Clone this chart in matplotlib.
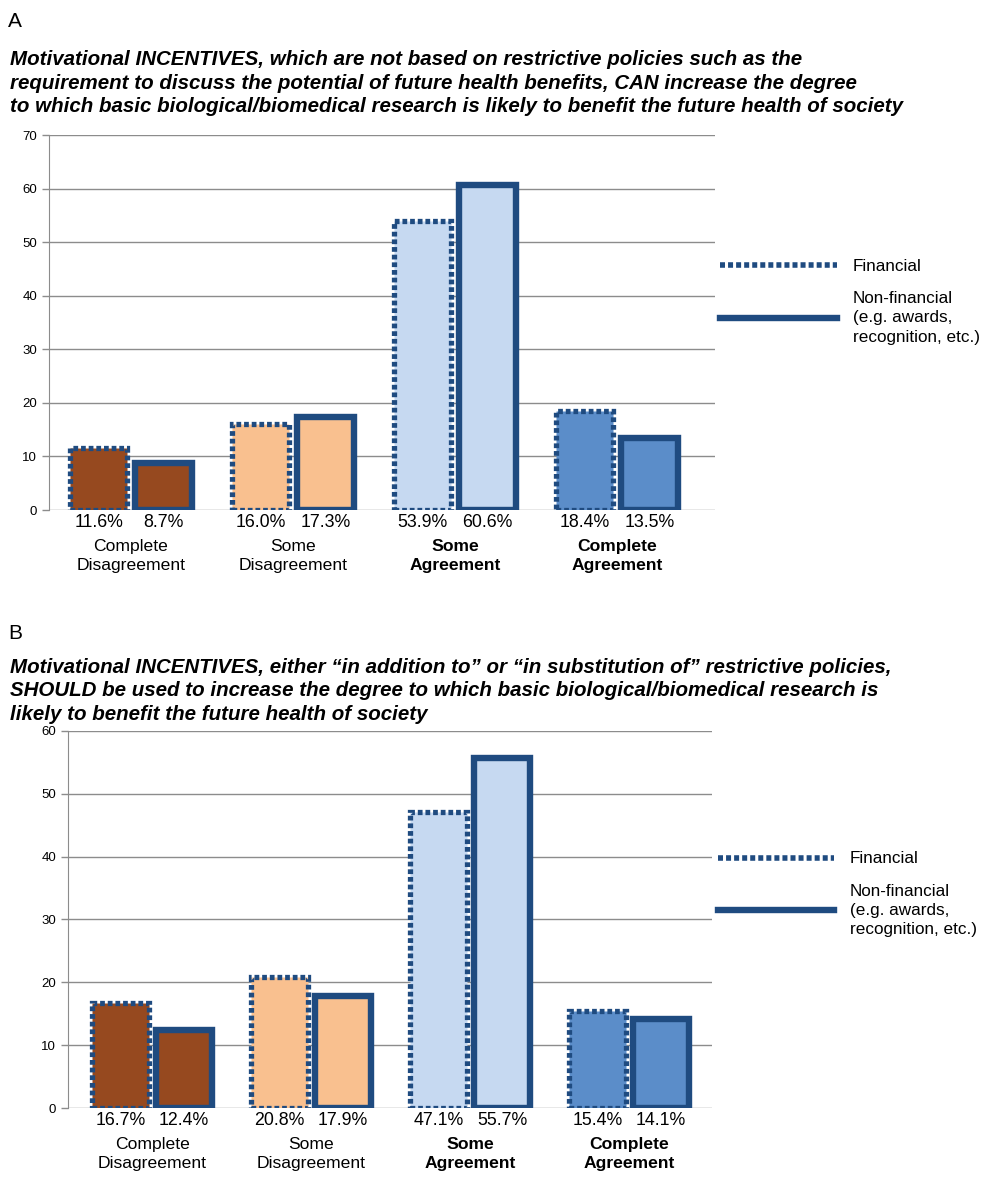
import numpy as np
import matplotlib.pyplot as plt
from matplotlib.lines import Line2D

plt.rcParams['font.family'] = ['Liberation Sans', 'DejaVu Sans']

# data
categories = ['Complete\nDisagreement', 'Some\nDisagreement', 'Some\nAgreement', 'Complete\nAgreement']
bold_cats = [False, False, True, True]
fill_colors = ['#96491F', '#F9C08F', '#C6D9F1', '#5B8DC9']

a_financial = [11.6, 16.0, 53.9, 18.4]
a_nonfinancial = [8.7, 17.3, 60.6, 13.5]
b_financial = [16.7, 20.8, 47.1, 15.4]
b_nonfinancial = [12.4, 17.9, 55.7, 14.1]

a_title = ('Motivational INCENTIVES, which are not based on restrictive policies such as the\n'
           'requirement to discuss the potential of future health benefits, CAN increase the degree\n'
           'to which basic biological/biomedical research is likely to benefit the future health of society')
b_title = ('Motivational INCENTIVES, either \u201cin addition to\u201d or \u201cin substitution of\u201d restrictive policies,\n'
           'SHOULD be used to increase the degree to which basic biological/biomedical research is\n'
           'likely to benefit the future health of society')

edge = '#1F4B80'
grid = '#8C8C8C'
dots = (0, (0.9, 0.55))


def panel(ax, fin, nonfin, ymax, xlim, leg_y):
    x = np.arange(len(categories))
    w = 0.355
    off = 0.2
    ax.bar(x - off, fin, w, color=fill_colors, edgecolor=edge, linewidth=3.8,
           linestyle=dots, zorder=3)
    ax.bar(x + off, nonfin, w, color=fill_colors, edgecolor=edge, linewidth=4.6,
           zorder=3)
    ax.set_ylim(0, ymax)
    ax.set_xlim(*xlim)
    ax.set_yticks(np.arange(0, ymax + 1, 10))
    ax.tick_params(axis='y', labelsize=9.5, color=grid, length=5, width=1)
    ax.set_xticks([])
    ax.yaxis.grid(True, color=grid, linewidth=1)
    ax.set_axisbelow(True)
    for s in ['top', 'right', 'bottom']:
        ax.spines[s].set_visible(False)
    ax.spines['left'].set_color(grid)
    for i in range(len(categories)):
        for xx, v in [(x[i] - off, fin[i]), (x[i] + off, nonfin[i])]:
            ax.annotate(f'{v:.1f}%', xy=(xx, 0), xytext=(0, -3), textcoords='offset points',
                        ha='center', va='top', fontsize=12.8)
        ax.annotate(categories[i], xy=(x[i], 0), xytext=(0, -21), textcoords='offset points',
                    ha='center', va='top', fontsize=12.6, linespacing=1.3,
                    fontweight='bold' if bold_cats[i] else 'normal')
    handles = [Line2D([], [], color=edge, linewidth=4, linestyle=dots),
               Line2D([], [], color=edge, linewidth=4.6)]
    leg = ax.legend(handles, ['Financial', 'Non-financial\n(e.g. awards,\nrecognition, etc.)'],
                    loc='center left', bbox_to_anchor=(0.985, leg_y), frameon=False,
                    handlelength=6.8, handletextpad=0.95, labelspacing=1.0, fontsize=12.3)
    for t in leg.get_texts():
        t.set_linespacing(1.35)


fig = plt.figure(figsize=(10, 11.95), dpi=100)

ax1 = fig.add_axes([0.049, 0.5732, 0.666, 0.3138])
panel(ax1, a_financial, a_nonfinancial, 70, (-0.506, 3.605), 0.555)
fig.text(0.008, 0.982, 'A', fontsize=15, va='center')
fig.text(0.01, 0.9305, a_title, fontsize=14.8, fontweight='bold', fontstyle='italic',
         va='center', linespacing=1.28)

ax2 = fig.add_axes([0.068, 0.0728, 0.644, 0.3155])
panel(ax2, b_financial, b_nonfinancial, 60, (-0.53, 3.52), 0.567)
fig.text(0.008, 0.4695, 'B', fontsize=15, va='center')
fig.text(0.01, 0.4218, b_title, fontsize=14.8, fontweight='bold', fontstyle='italic',
         va='center', linespacing=1.28)

fig.savefig('out.png', dpi=100)
